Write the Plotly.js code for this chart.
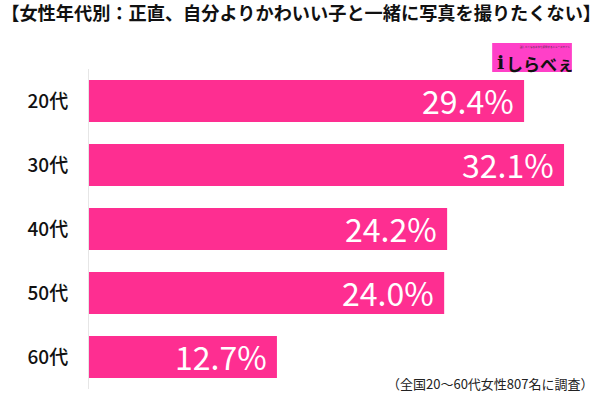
<!DOCTYPE html>
<html><head><meta charset="utf-8">
<script src="https://cdn.plot.ly/plotly-3.0.1.min.js"></script>
<style>html,body{margin:0;padding:0;background:#fff}</style>
</head><body>
<div id="chart" style="width:600px;height:401px"></div>
<script>
const categories = ["20代", "30代", "40代", "50代", "60代"];
const values = [29.4, 32.1, 24.2, 24.0, 12.7];
const valueLabels = ["29.4%", "32.1%", "24.2%", "24.0%", "12.7%"];
const titleText = "【女性年代別：正直、自分よりかわいい子と一緒に写真を撮りたくない】";
const footnote = "（全国20～60代女性807名に調査）";

const fontFam = '"Noto Sans CJK JP", "Noto Sans", sans-serif';
const barColor = "#fe2e91";

const trace = {
  type: "bar",
  orientation: "h",
  y: categories,
  x: values,
  width: 0.66,
  marker: {color: barColor},
  text: valueLabels,
  textposition: "none",
  hoverinfo: "none"
};

const annotations = values.map((v, i) => ({
  x: v, y: categories[i], xref: "x", yref: "y",
  text: valueLabels[i], showarrow: false,
  xanchor: "right", yanchor: "middle", xshift: -8, yshift: 1,
  font: {family: fontFam, size: 32, color: "#ffffff", weight: 400}
}));

annotations.push({
  xref: "paper", yref: "paper", x: 0.992, y: 0.018, xanchor: "right", yanchor: "middle",
  text: footnote, showarrow: false,
  font: {family: fontFam, size: 13, color: "#222"}
});
// logo
annotations.push({
  xref: "paper", yref: "paper", x: 0.953, y: 1.018, xanchor: "right", yanchor: "middle",
  text: "<b>しらべぇ</b>", showarrow: false,
  font: {family: fontFam, size: 17, color: "#111"}
});
annotations.push({
  xref: "paper", yref: "paper", x: 0.806, y: 1.022, xanchor: "center", yanchor: "middle",
  text: "<b>i</b>", showarrow: false,
  font: {family: "DejaVu Serif, serif", size: 19, color: "#111"}
});
annotations.push({
  xref: "paper", yref: "paper", x: 0.892, y: 1.069, xanchor: "center", yanchor: "middle",
  text: "話したくなるネタを提供するニュースサイト", showarrow: false,
  font: {family: fontFam, size: 2.5, color: "#333"}
});

const layout = {
  width: 600, height: 401,
  margin: {l: 89, r: 0, t: 69, b: 12, pad: 0},
  paper_bgcolor: "#ffffff", plot_bgcolor: "#ffffff",
  showlegend: false,
  title: {
    text: "<b>" + titleText + "</b>",
    x: 0.002, xanchor: "left", xref: "container",
    y: 0.965, yanchor: "middle", yref: "container",
    font: {family: fontFam, size: 18.2, color: "#111"}
  },
  xaxis: {
    range: [0, 34.53], showgrid: false, zeroline: false,
    showticklabels: false, showline: false, fixedrange: true
  },
  yaxis: {
    type: "category", autorange: "reversed",
    showgrid: false, zeroline: false,
    showline: true, linecolor: "#e6e6e6", linewidth: 1,
    ticks: "", ticklabelstandoff: 16,
    tickfont: {family: fontFam, size: 19, color: "#111", weight: 500}
  },
  shapes: [{
    type: "rect", xref: "paper", yref: "paper",
    x0: 0.789, x1: 0.945, y0: 0.991, y1: 1.081,
    fillcolor: "#ff40c8", line: {width: 0}, layer: "above"
  }],
  annotations: annotations,
  bargap: 0.34
};

Plotly.newPlot("chart", [trace], layout, {displayModeBar: false, staticPlot: true});
</script>
</body></html>
